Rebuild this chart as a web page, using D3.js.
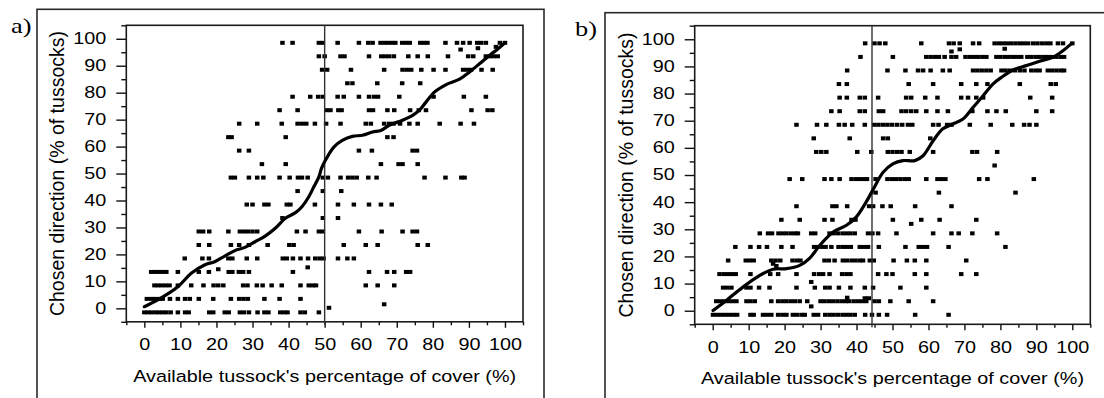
<!DOCTYPE html>
<html>
<head>
<meta charset="utf-8">
<script src="https://cdnjs.cloudflare.com/ajax/libs/d3/7.8.5/d3.min.js"></script>
<style>
	body	{ margin:0; background:#fff; }
	svg	{ display:block; }
	text	{ font-family:"Liberation Sans", Arial, sans-serif; fill:#000; }
</style>
</head>
<body>
<div id="chart"></div>
<script>
// row levels of the dot rows (chosen direction, %), top to bottom
var	rowLevels	= [98.5, 93.5, 88.5, 83.5, 78.5, 73.5, 68.5, 63.5, 58.5, 53.5, 48.5, 43.5, 38.5, 33.5, 28.5, 23.5, 18.5, 13.5, 8.5, 3.5, -1.5];
var	xTicks		= [0, 10, 20, 30, 40, 50, 60, 70, 80, 90, 100];
var	yTicks		= [0, 10, 20, 30, 40, 50, 60, 70, 80, 90, 100];
var	minorTicks	= [-5, 5, 15, 25, 35, 45, 55, 65, 75, 85, 95, 105];

// panel a : available cover (x) for every row of rowLevels
var	aRows	= [
	[38.3, 41.1, 48.4, 49.5, 53.6, 59.5, 62.1, 63.3, 65.5, 66.6, 67.6, 68.7, 69.6, 71.5, 72.6, 73.6, 76.5, 77.5, 78.5, 83.5, 86.7, 88.4, 90.2, 92.3, 93.4, 94.7, 98.6, 100],
	[48.4, 50.0, 54.4, 55.5, 62.3, 65.7, 66.8, 67.9, 69.2, 73.2, 75.8, 78.6, 84.2, 89.8, 91.2, 94.7, 95.8, 96.9, 98.0],
	[49.3, 50.7, 57.3, 66.5, 71.6, 72.8, 74.0, 76.8, 80.2, 83.5, 88.4, 89.5, 90.6, 93.5, 96.6],
	[56.3, 57.7, 64.6, 71.5, 76.5],
	[41.1, 46.0, 48.2, 49.5, 53.6, 55.3, 59.5, 62.3, 63.7, 64.8, 70.7, 80.2, 88.6, 94.7],
	[37.5, 42.5, 50.5, 51.6, 53.8, 54.7, 62.3, 63.4, 67.4, 69.3, 73.7, 76.1, 78.1, 90.7, 95.2, 96.5],
	[26.3, 31.3, 38.1, 42.5, 43.7, 44.9, 47.3, 50.4, 54.4, 61.4, 62.8, 66.5, 67.9, 69.1, 70.9, 73.5, 75.8, 81.9, 87.7, 91.4],
	[23.3, 24.2, 39.2, 67.4, 69.1],
	[26.3, 29.0, 59.5, 63.1, 74.4, 75.6],
	[32.6, 39.2, 65.6, 70.5, 71.6, 75.8],
	[24.0, 25.1, 29.0, 31.3, 33.0, 37.5, 40.3, 42.6, 43.7, 45.3, 49.5, 50.9, 54.4, 56.5, 57.7, 58.9, 62.1, 64.4, 77.7, 83.5, 87.9, 88.8],
	[42.5, 49.5, 54.6],
	[28.4, 30.0, 33.3, 34.4, 39.5, 40.5, 47.3, 53.7, 58.1, 62.3, 65.6, 68.6],
	[38.3, 49.5, 53.7],
	[15.1, 16.3, 18.0, 23.3, 26.5, 27.7, 28.8, 30.0, 31.3, 42.3, 44.7, 48.4, 49.5, 59.5, 65.8, 71.6, 74.4, 75.6],
	[15.1, 18.0, 24.0, 26.3, 29.0, 34.2, 40.2, 41.4, 55.3, 61.4, 64.7, 75.8, 78.6],
	[11.2, 16.1, 17.9, 23.3, 24.4, 28.4, 31.3, 38.4, 39.5, 41.2, 43.3, 45.4, 47.4, 48.6, 49.7, 53.7, 56.3, 58.1],
	[1.9, 3.0, 4.0, 5.1, 6.1, 9.3, 15.1, 17.9, 23.4, 24.4, 26.2, 27.4, 29.0, 41.2, 62.3, 67.3, 69.3, 72.6, 73.7],
	[2.8, 3.8, 4.8, 5.9, 7.0, 9.3, 13.0, 16.4, 19.2, 20.5, 21.9, 27.4, 28.6, 31.2, 32.8, 35.3, 38.1, 43.3, 45.6, 46.7, 47.6, 61.4, 64.7, 69.3],
	[0.7, 1.9, 3.0, 4.1, 5.1, 7.1, 9.3, 11.3, 12.6, 15.1, 19.1, 24.0, 26.3, 27.5, 28.7, 33.3, 37.5, 43.3],
	[0, 1.0, 2.0, 3.1, 4.1, 5.1, 6.1, 7.3, 9.3, 11.3, 12.3, 18.0, 19.1, 22.3, 23.4, 26.5, 27.6, 29.0, 31.4, 33.3, 34.4, 37.7, 38.8, 39.7, 43.3, 44.5, 48.4]
];
var	aExtra	= [[87.7, 96], [92.5, 96.5], [97.5, 97], [20.5, 14.5], [45.3, 15.2], [51.2, 0.2], [66.5, 1.5]];
var	aCurve	= [[0, 0.6], [3.7, 3.1], [9.3, 8.0], [13, 13], [16.7, 16.1], [19.5, 17.3], [22.3, 19.4], [25.1, 21.4], [27.9, 22.6], [30.7, 24.7],
	[33.5, 26.8], [36.3, 29.7], [39.1, 33.4], [41.9, 35.5], [43.7, 37.7], [45.6, 41.4], [47, 45.1], [48.4, 48.8], [49.1, 51.8], [50.2, 54.9],
	[52.6, 59.9], [54.9, 62.3], [57.7, 63.8], [60.5, 64.2], [63.3, 65.4], [65.6, 66], [67.9, 67.9], [71.6, 69.8], [74.4, 71.6], [76.3, 73.5],
	[78.1, 76.5], [80.5, 80.3], [83.7, 83], [87.4, 85], [90.2, 87.7], [93, 90.8], [95.8, 93.9], [98.1, 96.3], [100, 98.5]];
var	aSplit	= 50;

// panel b
var	bRows	= [
	[42.4, 45.0, 46.4, 48.0, 58.0, 65.7, 67.0, 68.7, 72.4, 74.1, 78.4, 79.6, 80.7, 81.8, 83.0, 84.2, 85.4, 86.5, 87.7, 89.1, 90.3, 91.6, 92.8, 93.9, 96.0, 97.4, 100],
	[41.1, 50.1, 59.4, 60.6, 61.8, 62.9, 64.5, 66.4, 67.7, 70.3, 71.5, 72.7, 73.8, 75.0, 76.1, 78.9, 80.0, 81.2, 82.3, 83.5, 84.6, 85.8, 87.5, 88.6, 89.8, 90.9, 92.1, 93.2, 94.4, 95.6, 96.8, 97.7],
	[37.4, 48.6, 53.6, 57.1, 58.5, 60.6, 64.0, 65.9, 72.4, 73.6, 74.8, 76.1, 77.3, 80.3, 81.4, 82.6, 84.0, 85.4, 86.7, 88.6, 89.8, 90.9, 93.2, 94.4, 95.6, 96.8, 97.7],
	[35.1, 37.3, 54.5, 61.3, 69.1, 73.3, 76.4, 85.4, 94.0, 95.4],
	[35.3, 37.3, 40.9, 42.3, 46.0, 53.8, 55.2, 59.1, 62.5, 69.1, 71.0, 73.3, 75.2, 88.3, 94.4],
	[33.0, 35.3, 40.9, 42.3, 46.2, 47.4, 52.5, 53.8, 55.2, 56.6, 59.4, 62.5, 65.4, 72.2, 76.4, 78.9, 81.5, 90.0, 94.4],
	[23.3, 29.0, 31.6, 35.1, 36.7, 38.8, 42.3, 44.9, 46.1, 47.4, 48.6, 49.9, 51.3, 52.7, 54.3, 55.5, 61.3, 62.8, 65.2, 66.4, 71.5, 77.3, 83.3, 86.6, 88.1, 90.0],
	[28.1, 38.1, 47.4, 48.7, 60.5],
	[28.8, 30.2, 31.6, 40.2, 44.1, 48.7, 50.0, 51.3, 52.5, 54.8, 61.3, 72.2, 73.5, 79.1],
	[78.4],
	[21.4, 24.9, 31.1, 33.0, 35.3, 38.6, 39.8, 40.9, 42.0, 42.9, 45.3, 48.6, 49.8, 51.0, 52.2, 53.4, 54.5, 59.4, 62.5, 63.6, 64.7, 74.1, 76.4, 89.3],
	[45.3, 62.9, 84.2],
	[23.3, 33.3, 34.4, 37.4, 43.5, 44.6, 47.2, 49.5, 56.3, 66.4],
	[19.1, 24.2, 31.1, 33.3, 38.6, 39.7, 50.1, 58.0, 63.1, 73.3],
	[13.1, 15.4, 16.5, 18.3, 19.4, 20.5, 21.7, 22.9, 23.7, 27.4, 28.5, 32.5, 33.6, 34.8, 36.1, 37.2, 38.3, 39.5, 43.2, 44.4, 46.0, 51.1, 61.3, 66.4, 68.4, 72.2, 79.1],
	[6.3, 10.5, 12.9, 15.1, 19.1, 22.2, 28.2, 29.3, 30.5, 31.4, 33.0, 35.0, 36.2, 37.3, 38.4, 40.9, 42.0, 43.2, 46.2, 53.6, 57.3, 58.5, 59.6, 65.6, 81.4],
	[4.3, 9.2, 10.3, 11.4, 16.3, 17.5, 18.8, 22.2, 23.4, 24.4, 31.1, 32.3, 33.9, 36.2, 37.3, 38.6, 39.7, 40.9, 41.8, 43.7, 44.8, 50.3, 54.0, 56.2, 59.4, 70.5],
	[1.9, 3.1, 4.2, 5.3, 6.4, 10.5, 16.0, 18.2, 23.3, 28.2, 29.6, 30.7, 32.5, 36.0, 37.2, 38.3, 46.0, 48.3, 50.0, 56.2, 59.4, 69.1, 73.3],
	[2.9, 4.0, 5.2, 9.4, 10.5, 12.9, 15.8, 23.3, 28.4, 31.3, 32.5, 35.1, 38.3, 42.3, 44.6, 52.2, 59.4],
	[1.0, 2.1, 3.2, 4.4, 5.5, 6.6, 9.4, 10.5, 11.7, 16.3, 18.2, 19.4, 20.5, 21.7, 22.9, 24.2, 26.3, 30.0, 31.1, 32.3, 33.5, 34.7, 35.9, 37.0, 37.9, 39.2, 40.4, 41.5, 42.7, 45.0, 46.2, 49.4, 54.5, 61.3],
	[0.1, 1.2, 2.3, 3.4, 4.5, 5.7, 6.8, 10.5, 11.4, 14.0, 15.1, 16.3, 18.2, 19.4, 20.5, 22.3, 23.4, 24.7, 25.6, 28.1, 29.3, 31.3, 32.5, 33.6, 34.8, 36.1, 37.2, 38.3, 39.5, 42.4, 44.3, 46.2, 48.5, 56.3, 65.6]
];
var	bExtra	= [[68.7, 96.3], [81.2, 96.5], [66.4, 95.5], [17.7, 16.5], [16.8, 17.3], [55.2, 32], [27.4, 10.6], [37.4, 4.8], [42.3, 4.6], [43.4, 4.6], [27.4, 1.6]];
var	bCurve	= [[0.1, 0.1], [3.8, 3.8], [8.4, 8.7], [13.1, 13], [16.8, 15.3], [20.5, 15.5], [24.2, 16.7], [27, 19.4], [29.8, 24.1], [33.5, 29],
	[37.2, 31.5], [39.9, 34.5], [42.7, 40.1], [45, 45.6], [47.4, 51], [50.1, 54.1], [52.9, 55.3], [56.2, 55.3], [58.5, 57.1], [61.3, 62.6],
	[64, 67], [66.8, 68.8], [69.6, 70.6], [72.4, 74.9], [75.2, 79.2], [77.9, 83.5], [80.3, 86], [83.5, 88.7], [87.2, 90.3], [90.9, 91.9],
	[94.6, 93.4], [97.4, 95.8], [99.7, 98.3]];
var	bSplit	= 44.3;

var	xTitle	= "Available tussock's percentage of cover (%)",
	yTitle	= "Chosen direction (% of tussocks)";

function drawPanel(svg, o) {
	var	g	= svg.append("g"),
		x	= d3.scaleLinear().domain([-5, 105]).range([o.box[0], o.box[2]]),
		y	= d3.scaleLinear().domain([-5, 105]).range([o.box[3], o.box[1]]),
		sx	= 1.2,
		pts	= [];

	o.rows.forEach(function(r, i) {
		r.forEach(function(v) { pts.push([v, rowLevels[i]]); });
	});
	o.extra.forEach(function(p) { pts.push(p); });

	// outer frame (runs off the picture)
	g.append("rect").attr("x", o.frame[0]).attr("y", o.frame[1])
		.attr("width", o.frame[2]).attr("height", o.frame[3])
		.attr("fill", "none").attr("stroke", "#2a2a2a").attr("stroke-width", 1.6);

	g.append("text").attr("transform", "translate(" + o.lx + "," + o.ly + ") scale(1.2,1)")
		.style("font-family", "'Liberation Serif','Times New Roman',serif").style("font-size", "22px")
		.text(o.label);

	// axes
	var	ya	= g.append("g").attr("transform", "translate(" + o.box[0] + ",0)")
			.call(d3.axisLeft(y).tickValues(yTicks).tickSize(10).tickPadding(0));
	ya.select(".domain").remove();
	ya.selectAll(".tick line").attr("stroke", "#111").attr("stroke-width", 1.4);
	ya.selectAll(".tick text").attr("x", null).attr("dy", "0.3em")
		.attr("transform", "translate(-20,0) scale(" + sx + ",1)")
		.style("font-size", "16.5px").style("font-family", null);
	var	ym	= g.append("g").attr("transform", "translate(" + o.box[0] + ",0)")
			.call(d3.axisLeft(y).tickValues(minorTicks).tickSize(5).tickFormat(""));
	ym.select(".domain").remove();
	ym.selectAll(".tick line").attr("stroke", "#111").attr("stroke-width", 1.4);

	var	xa	= g.append("g").attr("transform", "translate(0," + o.box[3] + ")")
			.call(d3.axisBottom(x).tickValues(xTicks).tickSize(6));
	xa.select(".domain").remove();
	xa.selectAll(".tick line").attr("stroke", "#111").attr("stroke-width", 1.4);
	xa.selectAll(".tick text").attr("y", null).attr("dy", null)
		.attr("transform", "translate(0,28.5) scale(" + sx + ",1)")
		.style("font-size", "16.5px").style("font-family", null);
	var	xm	= g.append("g").attr("transform", "translate(0," + o.box[3] + ")")
			.call(d3.axisBottom(x).tickValues(minorTicks).tickSize(3.5).tickFormat(""));
	xm.select(".domain").remove();
	xm.selectAll(".tick line").attr("stroke", "#111").attr("stroke-width", 1.4);

	// plot box
	g.append("rect").attr("x", o.box[0]).attr("y", o.box[1])
		.attr("width", o.box[2] - o.box[0]).attr("height", o.box[3] - o.box[1])
		.attr("fill", "none").attr("stroke", "#1a1a1a").attr("stroke-width", 1.6);

	// titles
	g.append("text").attr("text-anchor", "middle")
		.attr("transform", "translate(" + ((o.box[0] + o.box[2]) / 2) + "," + (o.box[3] + 60) + ") scale(" + sx + ",1)")
		.style("font-size", "16.5px").text(xTitle);
	g.append("text").attr("text-anchor", "middle")
		.attr("transform", "translate(" + (o.box[0] - 62) + "," + ((o.box[1] + o.box[3]) / 2) + ") rotate(-90)")
		.style("font-size", "19.5px").text(yTitle);

	// dots
	g.append("g").selectAll("rect").data(pts).enter().append("rect")
		.attr("x", function(d) { return x(d[0]) - 2.25; })
		.attr("y", function(d) { return y(d[1]) - 2; })
		.attr("width", 4.5).attr("height", 4)
		.attr("fill", "#000");

	// split line
	g.append("line").attr("x1", x(o.split)).attr("x2", x(o.split))
		.attr("y1", o.box[1]).attr("y2", o.box[3] + 3)
		.attr("stroke", "#333").attr("stroke-width", 1.4);

	// smoothed curve
	var	line	= d3.line().curve(d3.curveCatmullRom.alpha(0.5))
			.x(function(d) { return x(d[0]); })
			.y(function(d) { return y(d[1]); });
	g.append("path").attr("d", line(o.curve))
		.attr("fill", "none").attr("stroke", "#000").attr("stroke-width", 3.2)
		.attr("stroke-linejoin", "round").attr("stroke-linecap", "round");
}

var	svg	= d3.select("#chart").append("svg").attr("width", 1104).attr("height", 398);
svg.append("rect").attr("width", 1104).attr("height", 398).attr("fill", "#fff");

drawPanel(svg, {label: "a)", lx: 11, ly: 33, frame: [37, 9.3, 507, 420],
	box: [126.3, 25.3, 523, 321.8], rows: aRows, extra: aExtra, curve: aCurve, split: aSplit});
drawPanel(svg, {label: "b)", lx: 575, ly: 35.5, frame: [605, 12.7, 520, 420],
	box: [694.7, 25.7, 1090.3, 324.3], rows: bRows, extra: bExtra, curve: bCurve, split: bSplit});
</script>
</body>
</html>
